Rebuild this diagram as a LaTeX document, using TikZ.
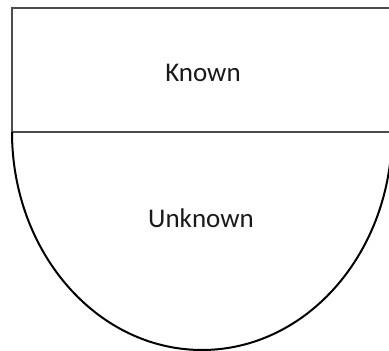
\documentclass[tikz,border=0pt]{standalone}
\usepackage{fontspec}
\setmainfont{Carlito}
\begin{document}
\begin{tikzpicture}[x=1pt,y=1pt,
  boxline/.style={draw=black!70, line width=2pt},
  bowlline/.style={draw=black, line width=2pt},
  lbl/.style={font=\fontsize{27}{32}\selectfont, text=black!90, anchor=base, inner sep=0pt}]
\useasboundingbox (0,0) rectangle (389,351);
\clip (0,0) rectangle (389,351);
\coordinate (tl) at (12,343);
\coordinate (br) at (396,219);
\draw[boxline] (tl) rectangle (br);
\draw[bowlline] (12,219) arc[start angle=180, end angle=360, x radius=190, y radius=218];
\node[lbl] (known) at (203,269) {Known};
\node[lbl] (unknown) at (201,123) {Unknown};
\end{tikzpicture}
\end{document}
